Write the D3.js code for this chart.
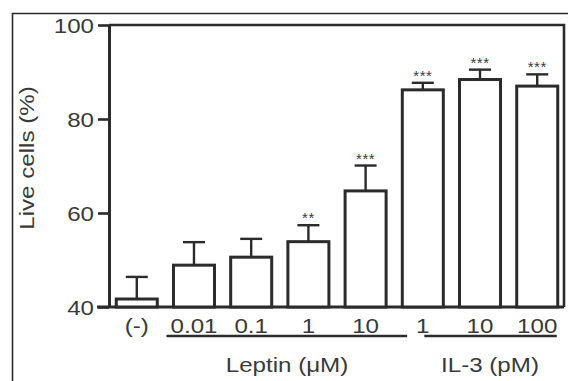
<!DOCTYPE html>
<html>
<head>
<meta charset="utf-8">
<script src="https://cdn.jsdelivr.net/npm/d3@7"></script>
<style>
  html, body { margin: 0; padding: 0; background: #fff; }
  svg { display: block; }
  text { font-family: "Liberation Sans", Arial, sans-serif; fill: #3a3a3a; }
</style>
</head>
<body>
<svg id="chart" width="568" height="381"></svg>
<script>
// Live cell percentage by treatment
const categories = ["(-)", "0.01", "0.1", "1", "10", "1 ", "10 ", "100"];
const tickLabels = ["(-)", "0.01", "0.1", "1", "10", "1", "10", "100"];
const means = [41.7, 48.9, 50.6, 53.9, 64.7, 86.2, 88.4, 87.0];
const errors = [4.7, 4.9, 3.9, 3.5, 5.4, 1.5, 2.1, 2.5];
const significance = ["", "", "", "**", "***", "***", "***", "***"];
const yTicks = [40, 60, 80, 100];
const groups = [
  { label: "Leptin (\u03bcM)", from: 1, to: 4 },
  { label: "IL-3 (pM)", from: 5, to: 7 }
];

const svg = d3.select("#chart");
const ink = "#2b2b2b";
const stretch = 1.15;

const x = d3.scaleBand()
  .domain(categories)
  .range([109, 565])
  .paddingInner(0.283)
  .paddingOuter(0.127);

const y = d3.scaleLinear().domain([40, 100]).range([307, 25]);

// outer figure frame (left and top edges)
svg.append("path")
  .attr("d", "M12.5,381 V13.5 H568")
  .attr("fill", "none").attr("stroke", ink).attr("stroke-width", 1.6);

// plot frame: top and right edges
svg.append("path")
  .attr("d", `M${x.range()[0]},${y(100)} H${564} V${y(40)}`)
  .attr("fill", "none").attr("stroke", ink).attr("stroke-width", 2.6);

// bottom baseline, extended to the left like a tick
svg.append("line")
  .attr("x1", 97).attr("x2", 564)
  .attr("y1", y(40)).attr("y2", y(40))
  .attr("stroke", ink).attr("stroke-width", 3);

// y axis
const yAxis = svg.append("g")
  .attr("transform", `translate(${x.range()[0]},0)`)
  .call(d3.axisLeft(y).tickValues(yTicks).tickSize(11).tickSizeOuter(0).tickPadding(4));
yAxis.select(".domain").attr("stroke", ink).attr("stroke-width", 3);
yAxis.selectAll(".tick line").attr("stroke", ink).attr("stroke-width", 2.6);
yAxis.selectAll(".tick text")
  .attr("font-size", 21).attr("fill", "#3a3a3a")
  .attr("font-family", "Liberation Sans, Arial, sans-serif")
  .attr("dy", "0.36em")
  .each(function () {
    const t = d3.select(this);
    const xx = +t.attr("x");
    t.attr("x", xx / stretch).attr("transform", `scale(${stretch},1)`);
  });

// y axis title
svg.append("text")
  .attr("transform", `translate(34,${158}) rotate(-90) scale(${stretch},1)`)
  .attr("text-anchor", "middle")
  .attr("font-size", 21)
  .text("Live cells (%)");

// bars
const bars = svg.append("g");
bars.selectAll("rect")
  .data(means)
  .join("rect")
  .attr("x", (d, i) => x(categories[i]))
  .attr("y", d => y(d))
  .attr("width", x.bandwidth())
  .attr("height", d => y(40) - y(d))
  .attr("fill", "#fff")
  .attr("stroke", ink)
  .attr("stroke-width", 3);

// error bars (upper only)
const capHalf = 11;
const eb = svg.append("g").attr("stroke", ink).attr("stroke-width", 2.4);
means.forEach((m, i) => {
  const cx = x(categories[i]) + x.bandwidth() / 2;
  eb.append("line")
    .attr("x1", cx).attr("x2", cx)
    .attr("y1", y(m)).attr("y2", y(m + errors[i]));
  eb.append("line")
    .attr("x1", cx - capHalf).attr("x2", cx + capHalf)
    .attr("y1", y(m + errors[i])).attr("y2", y(m + errors[i]));
});

// significance marks
svg.append("g").selectAll("text")
  .data(significance)
  .join("text")
  .attr("x", (d, i) => x(categories[i]) + x.bandwidth() / 2)
  .attr("y", (d, i) => y(means[i] + errors[i]) - 2)
  .attr("text-anchor", "middle")
  .attr("font-size", 15)
  .attr("letter-spacing", 0.5)
  .attr("fill", "#666")
  .text(d => d);

// category tick labels
svg.append("g").selectAll("text")
  .data(categories)
  .join("text")
  .attr("transform", (d, i) =>
    `translate(${x(d) + x.bandwidth() / 2},333) scale(${stretch},1)`)
  .attr("text-anchor", "middle")
  .attr("font-size", 21)
  .text((d, i) => tickLabels[i]);

// group underlines and names
groups.forEach(g => {
  const x0 = g.from === 1 ? x(categories[g.from]) - 7 : x(categories[g.from]) + 22;
  const x1 = g.from === 1 ? x(categories[g.to]) + x.bandwidth() + 21 : x(categories[g.to]) + x.bandwidth() - 1;
  svg.append("line")
    .attr("x1", x0).attr("x2", x1)
    .attr("y1", 336).attr("y2", 336)
    .attr("stroke", ink).attr("stroke-width", 2.6);
});
svg.append("text")
  .attr("transform", `translate(287,372) scale(${stretch},1)`)
  .attr("text-anchor", "middle").attr("font-size", 21)
  .text(groups[0].label);
svg.append("text")
  .attr("transform", `translate(490,372) scale(${stretch},1)`)
  .attr("text-anchor", "middle").attr("font-size", 21)
  .text(groups[1].label);
</script>
</body>
</html>
